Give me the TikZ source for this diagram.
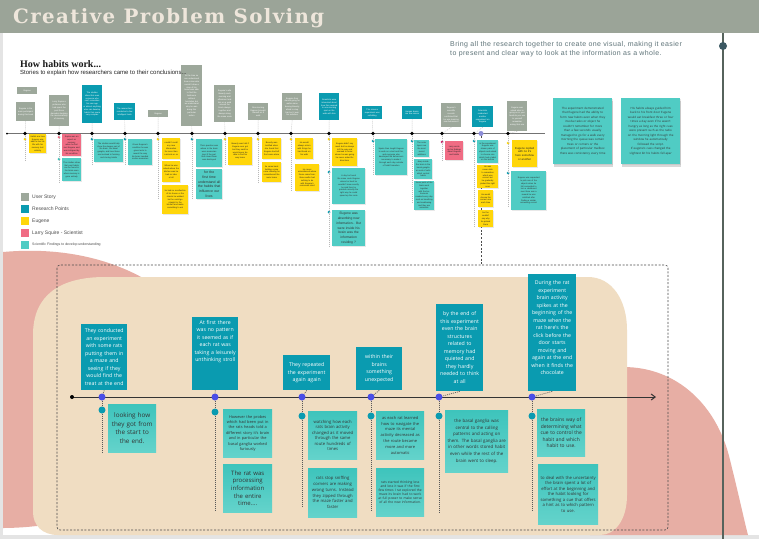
\documentclass[tikz,border=0pt]{standalone}
\usepackage{fontspec}
\setmainfont{Liberation Sans}
\newfontfamily\osans{Open Sans}
\newfontfamily\titlefont[LetterSpace=7]{DejaVu Serif}
\newfontfamily\headserif{Liberation Serif}
\newfontfamily\spaced[LetterSpace=5.5]{Liberation Sans}
\usetikzlibrary{shadows,arrows.meta}
\definecolor{header}{RGB}{155,164,152}
\definecolor{titlec}{RGB}{238,230,219}
\definecolor{storyg}{RGB}{157,168,155}
\definecolor{rpteal}{RGB}{10,155,176}
\definecolor{eugy}{RGB}{255,214,10}
\definecolor{larryp}{RGB}{240,108,132}
\definecolor{sfA}{RGB}{62,196,188}
\definecolor{sfB}{RGB}{100,211,203}
\definecolor{sfT}{RGB}{80,204,196}
\definecolor{beige}{RGB}{240,221,194}
\definecolor{blush}{RGB}{231,174,164}
\definecolor{vline}{RGB}{86,99,92}
\definecolor{vdot}{RGB}{59,88,98}
\definecolor{bluedot}{RGB}{74,78,230}
\definecolor{lavdot}{RGB}{140,140,216}
\definecolor{magdot}{RGB}{200,30,100}
\definecolor{subtxt}{RGB}{94,115,120}
\definecolor{framec}{RGB}{228,228,228}
\newcommand{\tinyf}{\fontsize{2.1}{2.8}\selectfont}
\newcommand{\bx}[7]{%
  \pgfmathsetmacro{\myW}{#5-#3}\pgfmathsetmacro{\myH}{#6-#4}\pgfmathsetmacro{\myT}{#5-#3-2}%
  \node[#2, anchor=north west, minimum width=\myW pt, minimum height=\myH pt, text width=\myT pt] (#1) at (#3,#4) {#7};}
\begin{document}
\begin{tikzpicture}[x=1pt,y=-1pt,
  story/.style={fill=storyg, text=white, align=center, inner sep=1pt, font=\tinyf},
  rp/.style={fill=rpteal, text=white, align=center, inner sep=1pt, font=\tinyf},
  shad/.style={drop shadow={opacity=0.18, shadow xshift=0.6pt, shadow yshift=-0.9pt}},
  eug/.style={shad, fill=eugy, text=black!85, align=center, inner sep=1pt, font=\tinyf},
  larry/.style={shad, fill=larryp, text=black!85, align=center, inner sep=1pt, font=\tinyf},
  sf/.style={shad, fill=sfT, text=black!80, align=center, inner sep=1pt, font=\tinyf},
  brp/.style={fill=rpteal, text=white, align=center, inner sep=1pt, font=\osans\fontsize{5.2}{7.5}\selectfont},
  bsf/.style={top color=sfA, bottom color=sfB, text=black!80, align=center, inner sep=1pt},
  tdot/.style={circle, fill=black, inner sep=0pt, minimum size=3.6pt},
  cdot/.style={circle, inner sep=0pt, minimum size=3pt},
  bdot/.style={circle, fill=bluedot, inner sep=0pt, minimum size=7pt},
  qdot/.style={circle, fill=rpteal, inner sep=0pt, minimum size=7pt},
  tline/.style={draw=gray!55, dash pattern=on 1pt off 1pt, line width=0.4pt},
  bline/.style={draw=black!65, dash pattern=on 1pt off 1pt, line width=0.7pt},
  legsq/.style={inner sep=0pt, minimum size=8pt},
  legtx/.style={anchor=west, inner sep=0pt, text=black!70, font=\fontsize{5}{6}\selectfont}
]
\useasboundingbox (0,0) rectangle (759,539);
\fill[white] (0,0) rectangle (759,539);
\fill[framec] (0,33) rectangle (3,539);
\fill[framec] (0,535) rectangle (759,539);
\fill[header] (0,0) rectangle (759,33);
\node[anchor=west, text=titlec, font=\titlefont\bfseries\fontsize{19.8}{24}\selectfont, inner sep=0pt] (title) at (13,18) {Creative Problem Solving};

% background blobs
\fill[blush] (3,252) .. controls (70,246) and (130,262) .. (175,300) -- (175,520) -- (45,525) .. controls (30,527) and (15,528) .. (3,528) -- cycle;
\fill[blush] (590,372) .. controls (660,352) and (715,395) .. (730,460) .. controls (740,500) and (744,520) .. (748,535) -- (590,535) -- cycle;
\fill[beige] (33,335) .. controls (33,295) and (60,277) .. (105,277) -- (588,277) .. controls (612,277) and (627,300) .. (627,330) -- (627,495) .. controls (627,520) and (615,535) .. (600,535) -- (58,535) .. controls (42,535) and (33,525) .. (33,512) -- cycle;
\draw[black!70, line width=0.6pt, dash pattern=on 2pt off 1.6pt, rounded corners=3pt] (57,265) rectangle (668,530);

% right rule
\draw[vline, line width=1.2pt] (723,33) -- (723,539);
\node[circle, fill=vdot, minimum size=8pt, inner sep=0pt] (vd) at (723,46) {};
\node[anchor=north west, text=subtxt, font=\spaced\fontsize{7}{9.3}\selectfont, align=left, inner sep=0pt] (intro) at (450,41) {Bring all the research together to create one visual, making it easier\\to present and clear way to look at the information as a whole.};

% ---------- top timeline ----------
\coordinate (ts) at (7,133.5);
\coordinate (te) at (545,133.5);
\draw[black!55, line width=0.9pt] (ts) -- (te);
\node[circle, fill=black, inner sep=0pt, minimum size=2pt] (t0) at (ts) {};

% boxes above
\bx{g0}{story}{17}{87}{37}{94}{Eugene}
\bx{g1}{story}{16}{102}{35}{121}{Eugene is the\\main participant\\during this book}
\bx{g2}{story}{49}{95}{69}{126}{Larry Squire a\\professor who\\had spent the\\past three\\decades studying\\the neuroanatomy\\of memory}
\bx{r1}{rp}{82}{85}{102}{123}{The studies\\show that even\\someone who\\can't remember\\his own age\\or almost anything\\else can develop\\habits that seem\\very complex}
\bx{r2}{rp}{114}{103}{135}{120}{The researchers\\conducted a few\\intelligent tests}
\bx{g3}{story}{148}{110}{168}{117}{Eugene}
\bx{g4}{story}{181}{65}{202}{126}{At the time no\\one understood\\how a man who\\couldn't draw a\\map of his\\home was able\\to find the\\bathroom\\without\\hesitation but\\we understand\\why he was\\doing this\\particular\\action}
\bx{g5}{story}{214}{85}{235}{122}{Eugene's wife\\Beverly each\\morning and\\afternoon took\\him on a walk\\around the\\block always\\together and\\always along\\the same route}
\bx{g6}{story}{248}{103}{268}{120}{One morning\\Eugene brought\\himself on a\\walk}
\bx{g7}{story}{282}{93}{302}{120}{Eugene then\\started going for\\walks alone\\leaving Beverly\\afraid to stop\\him but it was\\his activities}
\bx{r3}{rp}{319}{93}{339}{120}{Scientists were\\interested about\\how this seemed\\to one morning\\spot on the\\walk with him}
\bx{r4}{rp}{362}{106}{382}{119}{The science\\experiment was\\unfolding}
\bx{r5}{rp}{402}{106}{422}{119}{Human brains\\are like onions}
\bx{g8}{story}{441}{103}{461}{127}{Eugene's\\scientific\\records\\confirmed that\\he was learning\\new behaviours}
\bx{r6}{rp}{472}{106}{493}{127}{Scientists\\conducted\\another\\experiment on\\Eugene}
\bx{g9}{story}{507}{101}{527}{131}{Eugene was\\asked what is\\going on in your\\head do you use\\to yourself\\remember\\eating that one}

% dots on the line
\foreach \n/\xx in {d1/25,d2/59,d3/92,d4/125,d5/158,d6/192,d7/225,d8/258,d9/291,d10/329,d11/373,d12/412,d13/442,d14/474,d15/508}
  \node[tdot] (\n) at (\xx,133.5) {};
\node[circle, fill=lavdot, inner sep=0pt, minimum size=5pt] (d16) at (481,133.5) {};

% connectors from boxes to dots
\foreach \b/\d in {g1/d1,g2/d2,r1/d3,r2/d4,g3/d5,g4/d6,g5/d7,g6/d8,g7/d9,r3/d10,r4/d11,r5/d12,g8/d13,r6/d14,g9/d15}
  \draw[tline] (\b.south) -- (\d);

% coloured marker dots below the line
\node[cdot, fill=eugy] (m1) at (25,139) {};
\node[cdot, fill=larryp] (m2a) at (59,137) {};
\node[cdot, fill=sfA] (m2b) at (59,159) {};
\node[cdot, fill=rpteal] (m3) at (92,139) {};
\node[cdot, fill=rpteal] (m4) at (125,139) {};
\node[cdot, fill=eugy] (m5) at (158,139) {};
\node[cdot, fill=rpteal] (m6) at (192,139) {};
\node[cdot, fill=eugy] (m7) at (225,139) {};
\node[cdot, fill=eugy] (m8) at (258,139) {};
\node[cdot, fill=eugy] (m9) at (291,139) {};
\node[cdot, fill=eugy] (m10a) at (329,139) {};
\node[cdot, fill=rpteal] (m10b) at (329,172) {};
\node[cdot, fill=rpteal] (m10c) at (329,212) {};
\node[cdot, fill=rpteal] (m11) at (373,141) {};
\node[cdot, fill=rpteal] (m12) at (412,141) {};
\node[cdot, fill=magdot] (m13) at (442,142) {};
\node[cdot, fill=rpteal] (m14) at (474,141) {};
\node[cdot, fill=eugy] (m15a) at (508,143) {};
\node[cdot, fill=rpteal] (m15b) at (508,173) {};

% vertical guides down from dots
\foreach \d/\xx/\yy in {d1/25/160,d2/59/182,d3/92/165,d4/125/165,d5/158/198,d6/192/199,d7/225/165,d8/258/182,d9/291/191,d10/329/246,d11/373/175,d12/412/203,d13/442/160,d14/474/227,d15/508/207}
  {\coordinate (v\d) at (\xx,\yy); \draw[tline] (\d) -- (v\d);}
\coordinate (dropend) at (481,265);
\draw[black!70, line width=0.7pt, dash pattern=on 2pt off 1.6pt] (d16) -- (dropend);

% sticky notes below
\bx{y1}{eug}{29}{134}{46}{153}{Habits are how\\Eugene was\\able to live his\\life with his\\memory lost\\entirely}
\bx{p1}{larry}{62}{134}{81}{156}{Squire was an\\expert on memory\\when he first\\met Eugene and\\was intrigued by\\his condition}
\bx{f1}{sf}{62}{158}{81}{181}{The studies show\\that past habits\\can be found in\\the brain even\\when memory is\\gone entirely}
\bx{f2}{sf}{94}{139}{123}{162}{The studies would help\\show the deeper part of\\the brain, the basal\\ganglia, and how these\\are involved in forming\\and storing habits}
\bx{f3}{sf}{128}{139}{152}{165}{Given Eugene's\\condition he was\\given tests to\\reveal the way\\his brain handled\\routine memories}
\bx{y2}{eug}{162}{138}{180}{159}{couldn't recall\\any new\\information\\for more than\\a minute or so}
\bx{y3}{eug}{162}{161}{180}{182}{When he was\\asked where the\\kitchen was he\\had no idea\\at all}
\bx{y4}{eug}{162}{185}{188}{214}{he had no recollection\\of his house or the\\streets he walked\\but he could go\\straight to the\\kitchen and make\\something to eat}
\bx{f4}{sf}{196}{139}{222}{167}{Their question was\\where in the brain\\were memories\\kept if the part\\that stored them\\was destroyed}
\bx{f5}{sf, font=\fontsize{3.5}{4.9}\selectfont}{196}{169}{222}{199}{for the first time\\understand all\\the habits that\\influence our\\lives}
\bx{y5}{eug}{228}{137}{252}{165}{Beverly was told if\\Eugene ever got\\lost they said he\\would never be\\able to find his\\way home}
\bx{y6}{eug}{262}{138}{281}{159}{Beverly was\\terrified when\\she found that\\Eugene had left\\the house alone}
\bx{y7}{eug}{262}{162}{281}{182}{he came back\\holding a pine\\cone showing he\\remembered the\\route home}
\bx{y8}{eug}{295}{138}{313}{159}{He would\\always return\\with things he\\had found on\\his walk}
\bx{y9}{eug}{295}{164}{319}{191}{He never\\remembered where\\these came from;\\these walks had\\nothing to do\\with Eugene's\\conscious mind}
\bx{y10}{eug}{332}{138}{357}{166}{Eugene didn't say\\much but he always\\left the way and\\seemed to know\\where he was going\\he never asked for\\directions}
\bx{f6}{sf}{332}{168}{365}{204}{A day he found\\the same route Eugene\\where he lived he\\wouldn't know exactly\\he said then he\\pointed correctly the\\right way he could\\speed up the route}
\bx{f7}{sf, font=\fontsize{3.3}{4.9}\selectfont}{332}{210}{365}{246}{Eugene was\\absorbing new\\information.. But\\were inside his\\brain was the\\information\\residing ?}
\bx{f8}{sf}{375}{139}{407}{175}{Squire then taught Eugene\\to work on a test and this,\\and everyone else\\developed the behaviours\\necessary to make it\\through each day outside\\of habit formation}
\bx{f9}{sf}{414}{140}{429}{157}{The outer\\layers are\\the most\\recent\\additions}
\bx{f10}{sf}{414}{159}{432}{179}{deep inside\\the brain is the\\basal ganglia\\an oval of cells\\which control\\habits}
\bx{f11}{sf}{414}{181}{434}{203}{these parts of the\\brain work together\\with the behaviours\\needed every day\\such as breathing\\and swallowing\\and they are\\automatic}
\bx{p2}{larry}{445}{141}{463}{160}{Larry wrote\\up his findings\\about Eugene\\and habits}
\bx{f12}{sf}{477}{140}{498}{163}{in the experiment\\Eugene was\\shown pairs of\\objects and asked\\to choose one\\which had a label\\on the bottom}
\bx{y11}{eug}{477}{165}{498}{188}{He was\\never able\\to remember\\which was\\correct but\\he gradually\\picked the right\\ones}
\bx{y12}{eug}{478}{190}{493}{207}{He would\\choose the\\correct one\\each time}
\bx{y13}{eug}{478}{210}{493}{227}{but he\\couldn't\\say why\\he picked\\them}
\bx{y14}{eug, font=\fontsize{2.8}{3.8}\selectfont}{512}{140}{537}{167}{Eugene replied\\with no it's\\here somehow\\or another}
\bx{f13}{sf}{511}{171}{546}{210}{Eugene was requested\\to pick one of the\\objects when he\\felt compelled to\\turn a cardboard\\over there was a\\reward he was\\satisfied after\\finding a similar\\answering correct}
\bx{fA}{sf, font=\osans\fontsize{2.9}{4.5}\selectfont, drop shadow={opacity=0.3, shadow xshift=1pt, shadow yshift=-2.5pt}}{553}{98}{612}{164}{The experiment demonstrated\\that Eugene had the ability to\\form new habits even when they\\involve tasks or object he\\couldn't remember for more\\than a few seconds usually\\managed to go for a walk every\\morning the queue was certain\\trees or corners or the\\placement of particular mailbox\\there was consistency every time}
\bx{fB}{sf, font=\osans\fontsize{2.9}{4.5}\selectfont, drop shadow={opacity=0.3, shadow xshift=1pt, shadow yshift=-2.5pt}}{621}{98}{680}{164}{His habits always guided him\\back to his front door Eugene\\would eat breakfast three or four\\times a day even if he wasn't\\hungry as long as the right cues\\were present such as the radio\\on the morning light through the\\window he automatically\\followed the script.\\If eugene's cues changed the\\slightest bit his habits fell apar}

% headings
\node[anchor=west, inner sep=0pt, text=black!90, font=\headserif\bfseries\fontsize{10}{12}\selectfont] (h1) at (20,64) {How habits work...};
\node[anchor=west, inner sep=0pt, text=black!85, font=\fontsize{6}{7}\selectfont] (h2) at (20,73) {Stories to explain how researchers came to their conclusions...};

% legend
\node[legsq, fill=storyg] (l1) at (25,197) {};
\node[legsq, fill=rpteal] (l2) at (25,209) {};
\node[legsq, fill=eugy] (l3) at (25,221) {};
\node[legsq, fill=larryp] (l4) at (25,233) {};
\node[legsq, fill=sfT] (l5) at (25,245) {};
\node[legtx] (lt1) at (32,197) {User Story};
\node[legtx] (lt2) at (32,209) {Research Points};
\node[legtx] (lt3) at (32,221) {Eugene};
\node[legtx] (lt4) at (32,233) {Larry Squire - Scientist};
\node[legtx, font=\fontsize{3.5}{4.5}\selectfont] (lt5) at (32,245) {Scientific Findings to develop understanding};

% ---------- bottom timeline ----------
\coordinate (bs) at (72,397);
\coordinate (be) at (656,397);
\draw[black!80, line width=1pt, -{Straight Barb[length=4pt,width=6pt]}] (bs) -- (be);
\node[circle, fill=black, inner sep=0pt, minimum size=4pt] (b0) at (bs) {};

\bx{B1}{brp}{81}{324}{127}{390}{They conducted\\an experiment\\with some rats\\putting them in\\a maze and\\seeing if they\\would find the\\treat at the end}
\bx{B2}{brp}{192}{317}{238}{390}{At first there\\was no pattern\\it seemed as if\\each rat was\\taking a leisurely\\unthinking stroll\\[18pt]\mbox{}}
\bx{B3}{brp}{283}{355}{330}{390}{They repeated\\the experiment\\again again}
\bx{B4}{brp}{356}{347}{402}{390}{within their\\brains\\something\\unexpected}
\bx{B5}{brp}{436}{304}{483}{391}{by the end of\\this experiment\\even the brain\\structures\\related to\\memory had\\quieted and\\they hardly\\needed to think\\at all}
\bx{B6}{brp}{528}{274}{576}{391}{During the rat\\experiment\\brain activity\\spikes at the\\beginning of the\\maze when the\\rat here's the\\click before the\\door starts\\moving and\\again at the end\\when it finds the\\chocolate\\[2pt]\mbox{}}

\foreach \n/\xx in {1/102,2/215,3/302,4/371,5/439,6/532}{
  \node[bdot] (bd\n) at (\xx,397) {};
}
\node[qdot] (q1) at (102,410) {};
\node[qdot] (q2) at (215,412) {};
\node[qdot] (q3) at (302,416) {};
\node[qdot] (q4) at (371,416) {};
\node[qdot] (q5) at (439,416) {};
\node[qdot] (q6) at (532,416) {};
\coordinate (e1) at (102,453);
\coordinate (e2) at (215,510);
\coordinate (e3) at (302,507);
\coordinate (e4) at (371,510);
\coordinate (e5) at (439,512);
\coordinate (e6) at (532,510);
\foreach \i in {1,...,6}{
  \draw[bline] (B\i.south) -- (bd\i);
  \draw[bline] (bd\i) -- (q\i);
  \draw[bline] (q\i) -- (e\i);
}

\bx{L1}{bsf, font=\osans\fontsize{6.3}{8.7}\selectfont}{108}{404}{156}{452}{looking how\\they got from\\the start to\\the end.}
\bx{L2}{bsf, font=\osans\fontsize{3.9}{5.4}\selectfont}{223}{409}{272}{457}{However the probes\\which had been put in\\the rats heads told a\\different story it's brain\\and in particular the\\basal ganglia worked\\furiously}
\bx{L3}{bsf, font=\osans\fontsize{6}{7.7}\selectfont}{223}{464}{272}{512}{The rat was\\processing\\information\\the entire\\time....}
\bx{L4}{bsf, font=\osans\fontsize{4.2}{5.5}\selectfont}{308}{411}{357}{459}{watching how each\\rats brain activity\\changed as it moved\\through the same\\route hundreds of\\times}
\bx{L5}{bsf, font=\osans\fontsize{4.2}{5.8}\selectfont}{308}{468}{357}{517}{rats stop sniffing\\corners are making\\wrong turns. Instead\\they zipped through\\the maze faster and\\faster}
\bx{L6}{bsf, font=\osans\fontsize{4}{5.8}\selectfont}{376}{411}{424}{459}{as each rat learned\\how to navigate the\\maze its mental\\activity decreased as\\the route became\\more and more\\automatic}
\bx{L7}{bsf, font=\osans\fontsize{3.3}{4.1}\selectfont}{376}{468}{424}{516}{rats started thinking less\\and less it was if the first\\few times I rat explored the\\maze its brain had to work\\at full power to make sense\\of all the new information.}
\bx{L8}{bsf, font=\osans\fontsize{4.4}{6.6}\selectfont}{445}{410}{508}{472}{the basal ganglia was\\central to the calling\\patterns and acting on\\them. The basal ganglia are\\in other words stored habit\\even while the rest of the\\brain went to sleep.}
\bx{L9}{bsf, font=\osans\fontsize{4.9}{6.5}\selectfont}{537}{409}{585}{456}{the brains way of\\determining what\\cue to control the\\habit and which\\habit to use.}
\bx{L10}{bsf, font=\osans\fontsize{4.2}{5.5}\selectfont}{538}{464}{598}{524}{to deal with the uncertainty\\the brain spent a lot of\\effort at the beginning and\\the habit looking for\\something a cue that offers\\a hint as to which pattern\\to use.}
\end{tikzpicture}
\end{document}
